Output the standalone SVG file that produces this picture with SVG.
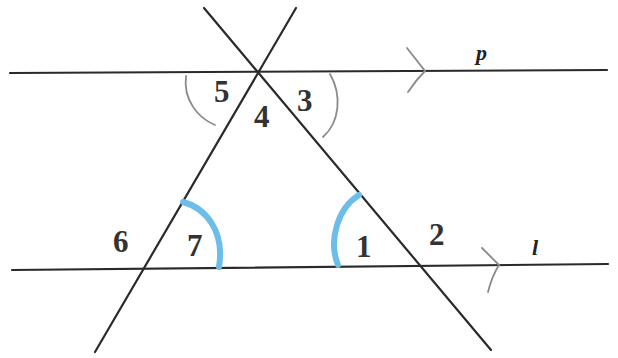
<svg xmlns="http://www.w3.org/2000/svg" width="618" height="358" viewBox="0 0 618 358">
<style>
.ln{stroke:#2a2a2a;stroke-width:2.2;fill:none;stroke-linecap:round}
.gr{stroke:#8a8a8a;stroke-width:1.8;fill:none;stroke-linecap:round}
.bl{stroke:#6cbde8;stroke-width:6;fill:none;stroke-linecap:round}
.num{font-family:"Liberation Serif",serif;font-weight:bold;font-size:31px;fill:#333}
.lab{font-family:"Liberation Serif",serif;font-style:italic;font-weight:bold;font-size:22px;fill:#222}
</style>
<rect width="618" height="358" fill="#fff"/>
<g id="connectors">
<line id="p" class="ln" x1="10" y1="73" x2="607" y2="70"/>
<line id="l" class="ln" x1="12" y1="270" x2="608" y2="264"/>
<line id="t1" class="ln" x1="296" y1="8" x2="95" y2="352"/>
<line id="t2" class="ln" x1="204" y1="8" x2="491" y2="350"/>
<path class="gr" d="M407,48 Q418,62 425,71 Q416,80 408,92"/>
<path class="gr" d="M482,248 Q492,258 499,265 Q492,276 488,292"/>
</g>
<g id="arcs">
<path class="gr" d="M186,76 C183,100 198,118 215,125"/>
<path class="gr" d="M330,74 C342,95 340,122 323,137"/>
<path class="bl" d="M183,202 C205,208 225,230 219,267"/>
<path class="bl" d="M359,195 C338,208 328,240 338,265"/>
</g>
<g id="labels">
<text class="lab" x="476" y="60">p</text>
<text class="lab" x="532" y="255">l</text>
<text class="num" x="214" y="102">5</text>
<text class="num" x="254" y="127">4</text>
<text class="num" x="297" y="111">3</text>
<text class="num" x="113" y="252">6</text>
<text class="num" x="187" y="256">7</text>
<text class="num" x="356" y="257">1</text>
<text class="num" x="429" y="245">2</text>
</g>
</svg>
